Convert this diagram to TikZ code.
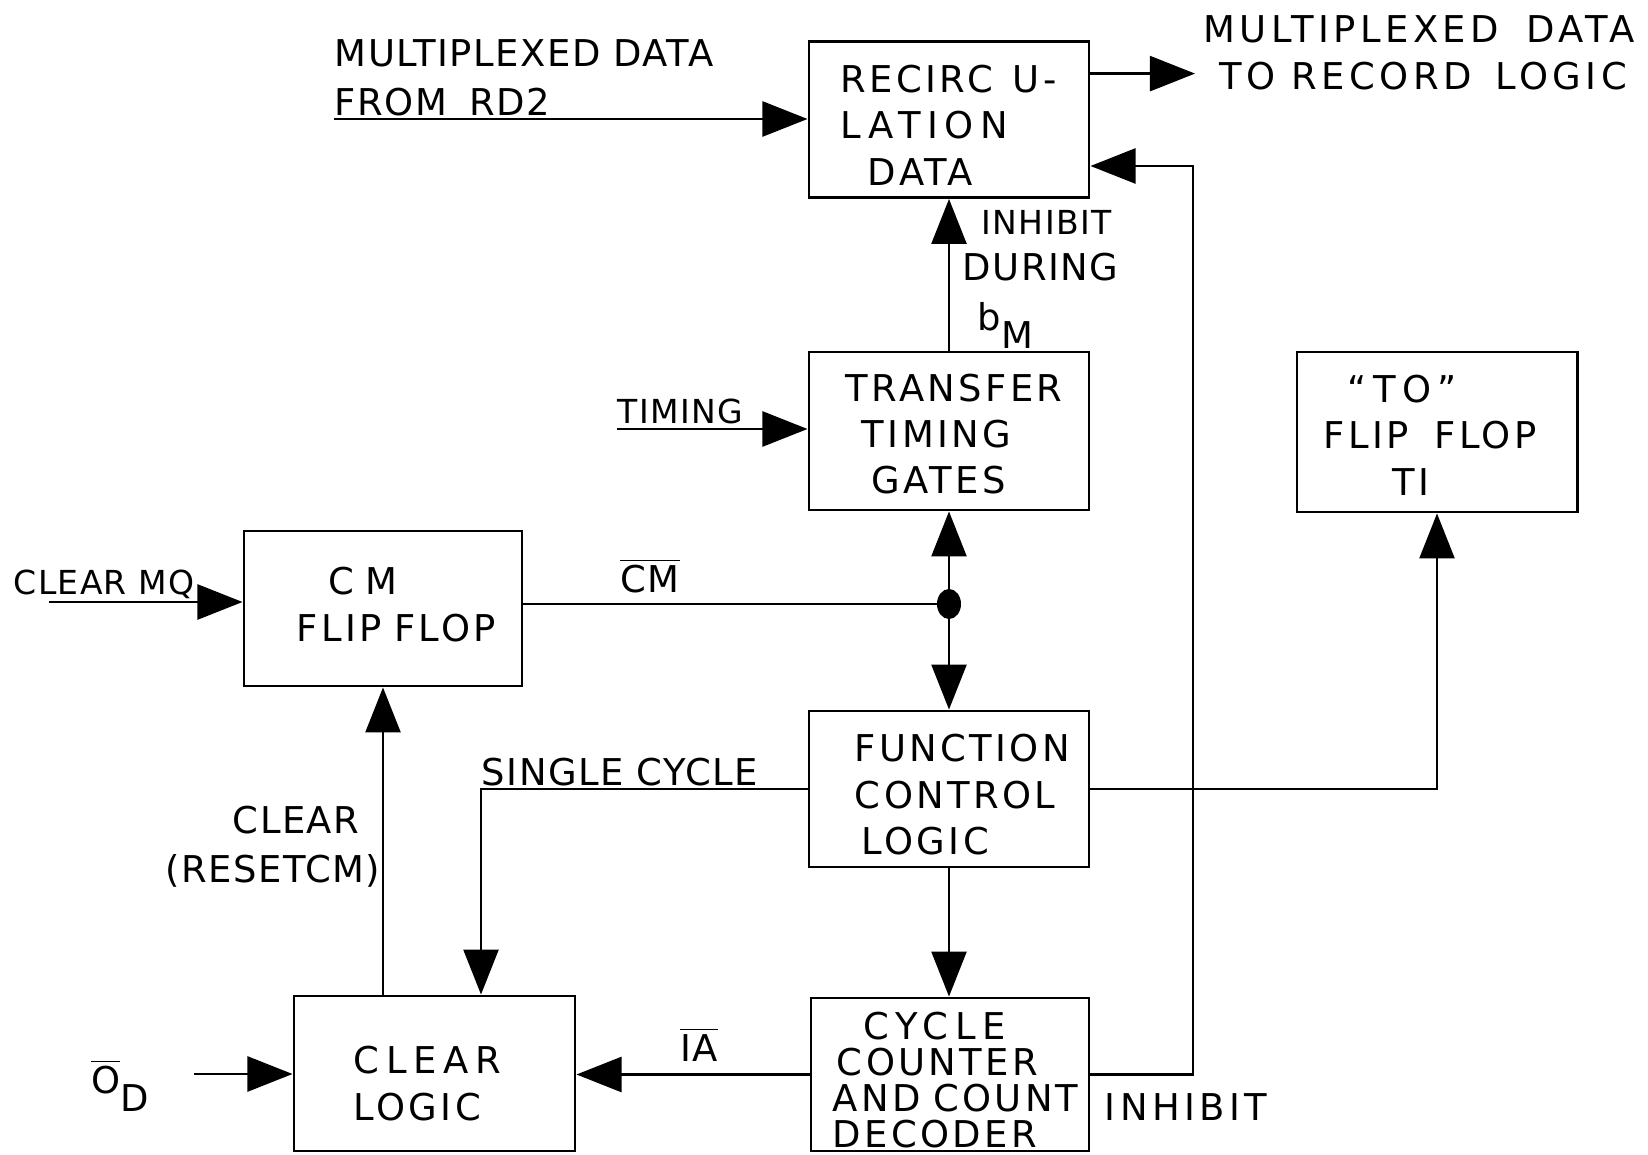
\documentclass[tikz,border=0pt]{standalone}
\usepackage{fontspec}
\setmainfont{DejaVu Sans}[LetterSpace=4]
\usetikzlibrary{arrows.meta}
\newcommand{\lsp}[1]{{\addfontfeatures{LetterSpace=18}#1}}
\newcommand{\dn}[1]{\rule{0pt}{#1}}
\newcommand{\up}[1]{\rule[-#1]{0pt}{0pt}}
\begin{document}
\begin{tikzpicture}[x=0.01cm,y=-0.01cm,
  box/.style={draw,line width=0.8pt,minimum width=2.8cm,minimum height=1.56cm,inner sep=0pt,align=left,font=\fontsize{10.5}{13.2}\selectfont\addfontfeatures{LetterSpace=9}},
  lbl/.style={inner sep=0pt,text height=7.7pt,text depth=0pt,font=\fontsize{10.5}{13}\selectfont},
  small/.style={font=\fontsize{9.4}{12}\selectfont},
  wide/.style={font=\fontsize{10.5}{13}\selectfont\addfontfeatures{LetterSpace=12}},
  wire/.style={line width=0.7pt},
  arr/.style={wire,-{Triangle[length=0.45cm,width=0.35cm]}}]
\useasboundingbox (0,0) rectangle (1648,1155);

% boxes
\node[box,text width=2.16cm] (rec) at (949,119.5) {\dn{11pt}RECIRC\hspace{0.2cm}U-\\\lsp{LATION}\\\hspace{0.27cm}DATA};
\node[box,text width=2.06cm,minimum height=1.58cm] (ttg) at (949,431) {\dn{9.5pt}TRANSFER\\\hspace{0.16cm}TIMING\\\hspace{0.26cm}GATES};
\node[box,text width=2.26cm,minimum height=1.6cm] (tof) at (1437,432) {\dn{9.5pt}\hspace{0.24cm}\lsp{``TO''}\\FLIP\hspace{0.7em}FLOP\\\hspace{0.69cm}TI};
\node[box,text width=1.72cm,minimum width=2.78cm,minimum height=1.55cm] (cmf) at (383,608.5) {\hspace{0.32cm}C\hspace{0.3em}M\\FLIP~FLOP\up{2.5pt}};
\node[box,text width=1.88cm] (fcl) at (949,789) {\dn{11pt}FUNCTION\\CONTROL\\\hspace{0.07cm}LOGIC};
\node[box,text width=1.61cm,minimum width=2.81cm,minimum height=1.55cm] (clr) at (434.5,1073.5) {\dn{13.5pt}\lsp{CLEAR}\\LOGIC};
\node[box,text width=2.34cm,minimum width=2.78cm,minimum height=1.53cm,font=\fontsize{10.5}{10.2}\selectfont\addfontfeatures{LetterSpace=9}] (cyc) at (950,1074.5) {\dn{11pt}\hspace{0.31cm}\lsp{CYCLE}\\\hspace{0.04cm}COUNTER\\AND~COUNT\\DECODER};

% labels
\node[lbl,anchor=west] (mux1) at (334,52.5) {MULTIPLEXED DATA};
\node[lbl,anchor=west] (mux2) at (334,102) {FROM\hspace{0.6em}RD2};
\node[lbl,wide,anchor=west] (out1) at (1203,29.4) {MULTIPLEXED\hspace{0.3em} DATA};
\node[lbl,wide,anchor=west] (out2) at (1219,75.7) {TO RECORD\hspace{0.2em} LOGIC};
\node[lbl,small,anchor=west] (inh1) at (981,221) {INHIBIT};
\node[lbl,anchor=west] (dur) at (962,267) {DURING};
\node[lbl,anchor=west] (bm) at (977,317) {b\raisebox{-5pt}{M}};
\node[lbl,small,anchor=west] (tim) at (617,410) {TIMING};
\node[lbl,small,anchor=west] (cmq) at (13,581) {CLEAR MQ};
\node[lbl] (cmbar) at (650,579) {$\overline{\mbox{CM}}$};
\node[lbl,anchor=west] (sgl) at (481,772) {SINGLE CYCLE};
\node[lbl,anchor=east] (clrl) at (360,820) {CLEAR};
\node[lbl,anchor=east] (rst) at (381,869) {(RESETCM)};
\node[lbl] (iabar) at (699,1048) {$\overline{\mbox{IA}}$};
\node[lbl] (od) at (120,1080) {$\overline{\mbox{O}}$\raisebox{-5pt}{D}};
\node[lbl,wide,anchor=west] (inh2) at (1104,1107) {INHIBIT};

% connectors
\coordinate (muxin) at (334,119);
\draw[arr] (muxin) -- (rec.west |- muxin);
\coordinate (outtip) at (1195,73.6);
\draw[arr] (rec.east |- outtip) -- (outtip);
\coordinate (inhtop) at (1193,166);
\draw[arr] (cyc.east) -| (inhtop) -- (rec.east |- inhtop);
\draw[arr] (ttg.north) -- (rec.south);
\coordinate (timin) at (617,429);
\draw[arr] (timin) -- (ttg.west |- timin);
\coordinate (cmqin) at (49,602);
\draw[arr] (cmqin) -- (cmf.west |- cmqin);
\coordinate (junc) at (949,604);
\draw[wire] (cmf.east |- junc) -- (junc);
\fill (junc) ellipse [x radius=0.12cm, y radius=0.15cm];
\draw[arr] (junc) -- (ttg.south);
\draw[arr] (junc) -- (fcl.north);
\coordinate (sc) at (481,789);
\draw[arr] (fcl.west) -- (sc) -- (sc |- clr.north);
\draw[arr] (fcl.east) -| (tof.south);
\draw[arr] (fcl.south) -- (cyc.north -| fcl.south);
\draw[arr] (clr.north -| cmf.south) -- (cmf.south);
\draw[arr] (cyc.west) -- (clr.east |- cyc.west);
\coordinate (odin) at (194,1074);
\draw[arr] (odin) -- (clr.west |- odin);
\end{tikzpicture}
\end{document}
